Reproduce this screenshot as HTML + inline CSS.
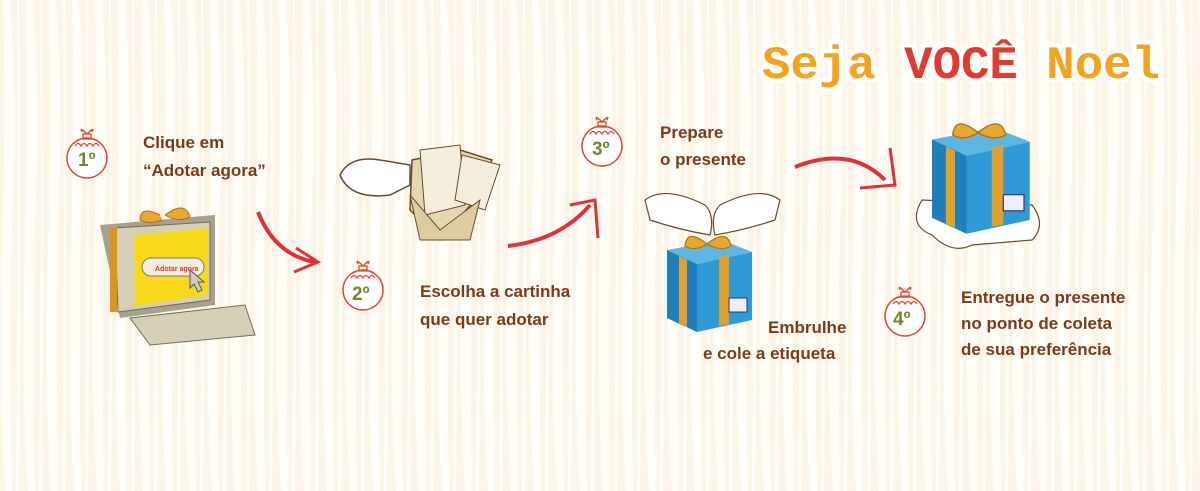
<!DOCTYPE html>
<html><head><meta charset="utf-8"><style>
html,body{margin:0;padding:0;width:1200px;height:491px;overflow:hidden;background:#fcf4e6}
svg{display:block}
.t{font-family:"Liberation Sans",sans-serif;font-weight:bold;fill:#7a3a1c;font-size:17px}
</style></head><body>
<svg width="1200" height="491" viewBox="0 0 1200 491" xmlns="http://www.w3.org/2000/svg">
<defs>
<pattern id="st" width="23" height="491" patternUnits="userSpaceOnUse">
<rect width="23" height="491" fill="#fcf4e6"/>
<path d="M3 0 Q6 120 2 250 T5 491 L12 491 Q9 300 13 200 T10 0Z" fill="#fffdf8"/>
<path d="M17 0 Q19 200 16 491 L19 491 Q21 250 19 0Z" fill="#fffdf8"/>
</pattern>
<g id="orn">
<circle cx="0" cy="8" r="20" fill="#fff" stroke="#e0442e" stroke-width="1.5"/>
<path d="M-12 -4 q3 -5 6 0 q3 -5 6 0 q3 -5 6 0 q3 -5 6 0" fill="none" stroke="#e0442e" stroke-width="1.3"/>
<rect x="-4" y="-16" width="8" height="5" fill="none" stroke="#e0442e" stroke-width="1.3"/>
<path d="M0 -16 q-8 -8 -5 -2 M0 -16 q8 -8 5 -2" fill="none" stroke="#e0442e" stroke-width="1.3"/>
</g>
<g id="gift">
<polygon points="0,10 55,0 85,12 30,24" fill="#5db6e0"/>
<polygon points="0,10 30,24 30,92 0,78" fill="#1f7fb8"/>
<polygon points="30,24 85,12 85,80 30,92" fill="#2f9ad6"/>
<polygon points="12,16 20,20 20,87 12,83" fill="#e0a030"/>
<polygon points="52,17 62,15 62,84 52,86" fill="#e0a030"/>
<rect x="62" y="58" width="18" height="14" fill="#eef" stroke="#335" stroke-width="1"/>
<path d="M40 4 q-20 -16 -22 2 q10 6 22 -2 M40 4 q20 -16 24 2 q-10 6 -24 -2" fill="#e8a830" stroke="#b07010" stroke-width="1.2"/>
</g>
</defs>
<rect width="1200" height="491" fill="url(#st)"/>

<text x="762" y="78" font-family="Liberation Mono,monospace" font-weight="bold" font-size="46" textLength="398" lengthAdjust="spacingAndGlyphs" fill="#f3a31d" stroke="#fff" stroke-width="8" paint-order="stroke">Seja <tspan fill="#e23a2c">VOCÊ</tspan> Noel</text>

<!-- step 1 -->
<use href="#orn" x="87" y="150"/>
<text x="78" y="166" font-family="Liberation Sans" font-weight="bold" font-size="19" fill="#6b8a2a">1º</text>
<text class="t" x="143" y="148">Clique em</text>
<text class="t" x="143" y="176">“Adotar agora”</text>
<polygon points="100,225 215,215 215,305 120,318" fill="#a7a08c"/>
<polygon points="115,228 210,222 210,300 118,312" fill="#d6cfb5" stroke="#6e6a5a"/>
<polygon points="134,235 208,228 208,295 135,306" fill="#f7d81a"/>
<rect x="142" y="258" width="62" height="18" rx="9" fill="#f4eee0" stroke="#777"/>
<text x="155" y="271" font-family="Liberation Sans" font-size="7" font-weight="bold" fill="#d33">Adotar agora</text>
<polygon points="190,270 204,282 198,282 202,290 198,292 194,284 190,288" fill="#ccc" stroke="#555"/>
<rect x="110" y="227" width="7" height="85" fill="#d8961c"/>
<polygon points="130,318 245,305 255,335 150,345" fill="#d6cfb5" stroke="#6e6a5a"/>
<path d="M160 215 q-20 -10 -20 5 q10 5 22 0 M165 215 q20 -15 25 2 q-12 6 -25 -2" fill="#e8a830" stroke="#b07010"/>
<path d="M258 212 Q275 255 315 262" fill="none" stroke="#e0303a" stroke-width="4"/>
<path d="M296 248 L318 262 L294 272" fill="none" stroke="#e0303a" stroke-width="3"/>

<!-- step 2 -->
<use href="#orn" x="363" y="282"/>
<text x="352" y="300" font-family="Liberation Sans" font-weight="bold" font-size="19" fill="#6b8a2a">2º</text>
<text class="t" x="420" y="297">Escolha a cartinha</text>
<text class="t" x="420" y="325">que quer adotar</text>
<path d="M340 175 q10 -20 40 -15 l30 5 l0 20 l-20 10 q-40 5 -50 -20z" fill="#fff" stroke="#6b4a2a" stroke-width="1.5"/>
<polygon points="412,160 460,150 492,160 475,200 440,240 410,210" fill="#e6d6b0" stroke="#6b4a2a" stroke-width="1.5"/>
<polygon points="420,150 460,145 465,205 425,215" fill="#f6eedc" stroke="#6b4a2a"/>
<polygon points="462,155 500,165 485,210 455,200" fill="#f6eedc" stroke="#6b4a2a"/>
<polygon points="410,195 440,230 480,200 470,240 420,240" fill="#ddcca0" stroke="#6b4a2a"/>
<path d="M508 246 Q560 240 590 205" fill="none" stroke="#e0303a" stroke-width="4"/>
<path d="M570 205 L595 200 L598 238" fill="none" stroke="#e0303a" stroke-width="3"/>

<!-- step 3 -->
<use href="#orn" x="602" y="138"/>
<text x="592" y="155" font-family="Liberation Sans" font-weight="bold" font-size="19" fill="#6b8a2a">3º</text>
<text class="t" x="660" y="138">Prepare</text>
<text class="t" x="660" y="165">o presente</text>
<path d="M645 200 q20 -15 60 5 q10 10 5 30 q-30 -5 -60 -15z" fill="#fff" stroke="#6b4a2a" stroke-width="1.2"/>
<path d="M780 200 q-20 -15 -60 5 q-10 10 -5 30 q30 -5 60 -15z" fill="#fff" stroke="#6b4a2a" stroke-width="1.2"/>
<use href="#gift" x="667" y="240"/>
<text class="t" x="768" y="333">Embrulhe</text>
<text class="t" x="703" y="359">e cole a etiqueta</text>
<path d="M795 167 Q850 145 885 180" fill="none" stroke="#e0303a" stroke-width="4"/>
<path d="M890 148 L895 185 L860 188" fill="none" stroke="#e0303a" stroke-width="3"/>

<!-- step 4 -->
<path d="M922 200 q-15 25 10 35 q20 20 40 10 l60 -5 q15 -15 0 -35z" fill="#fff" stroke="#6b4a2a" stroke-width="1.2"/>
<g transform="translate(932,128) scale(1.15)"><use href="#gift"/></g>
<use href="#orn" x="905" y="308"/>
<text x="893" y="325" font-family="Liberation Sans" font-weight="bold" font-size="19" fill="#6b8a2a">4º</text>
<text class="t" x="961" y="303">Entregue o presente</text>
<text class="t" x="961" y="329">no ponto de coleta</text>
<text class="t" x="961" y="355">de sua preferência</text>
</svg>
</body></html>
